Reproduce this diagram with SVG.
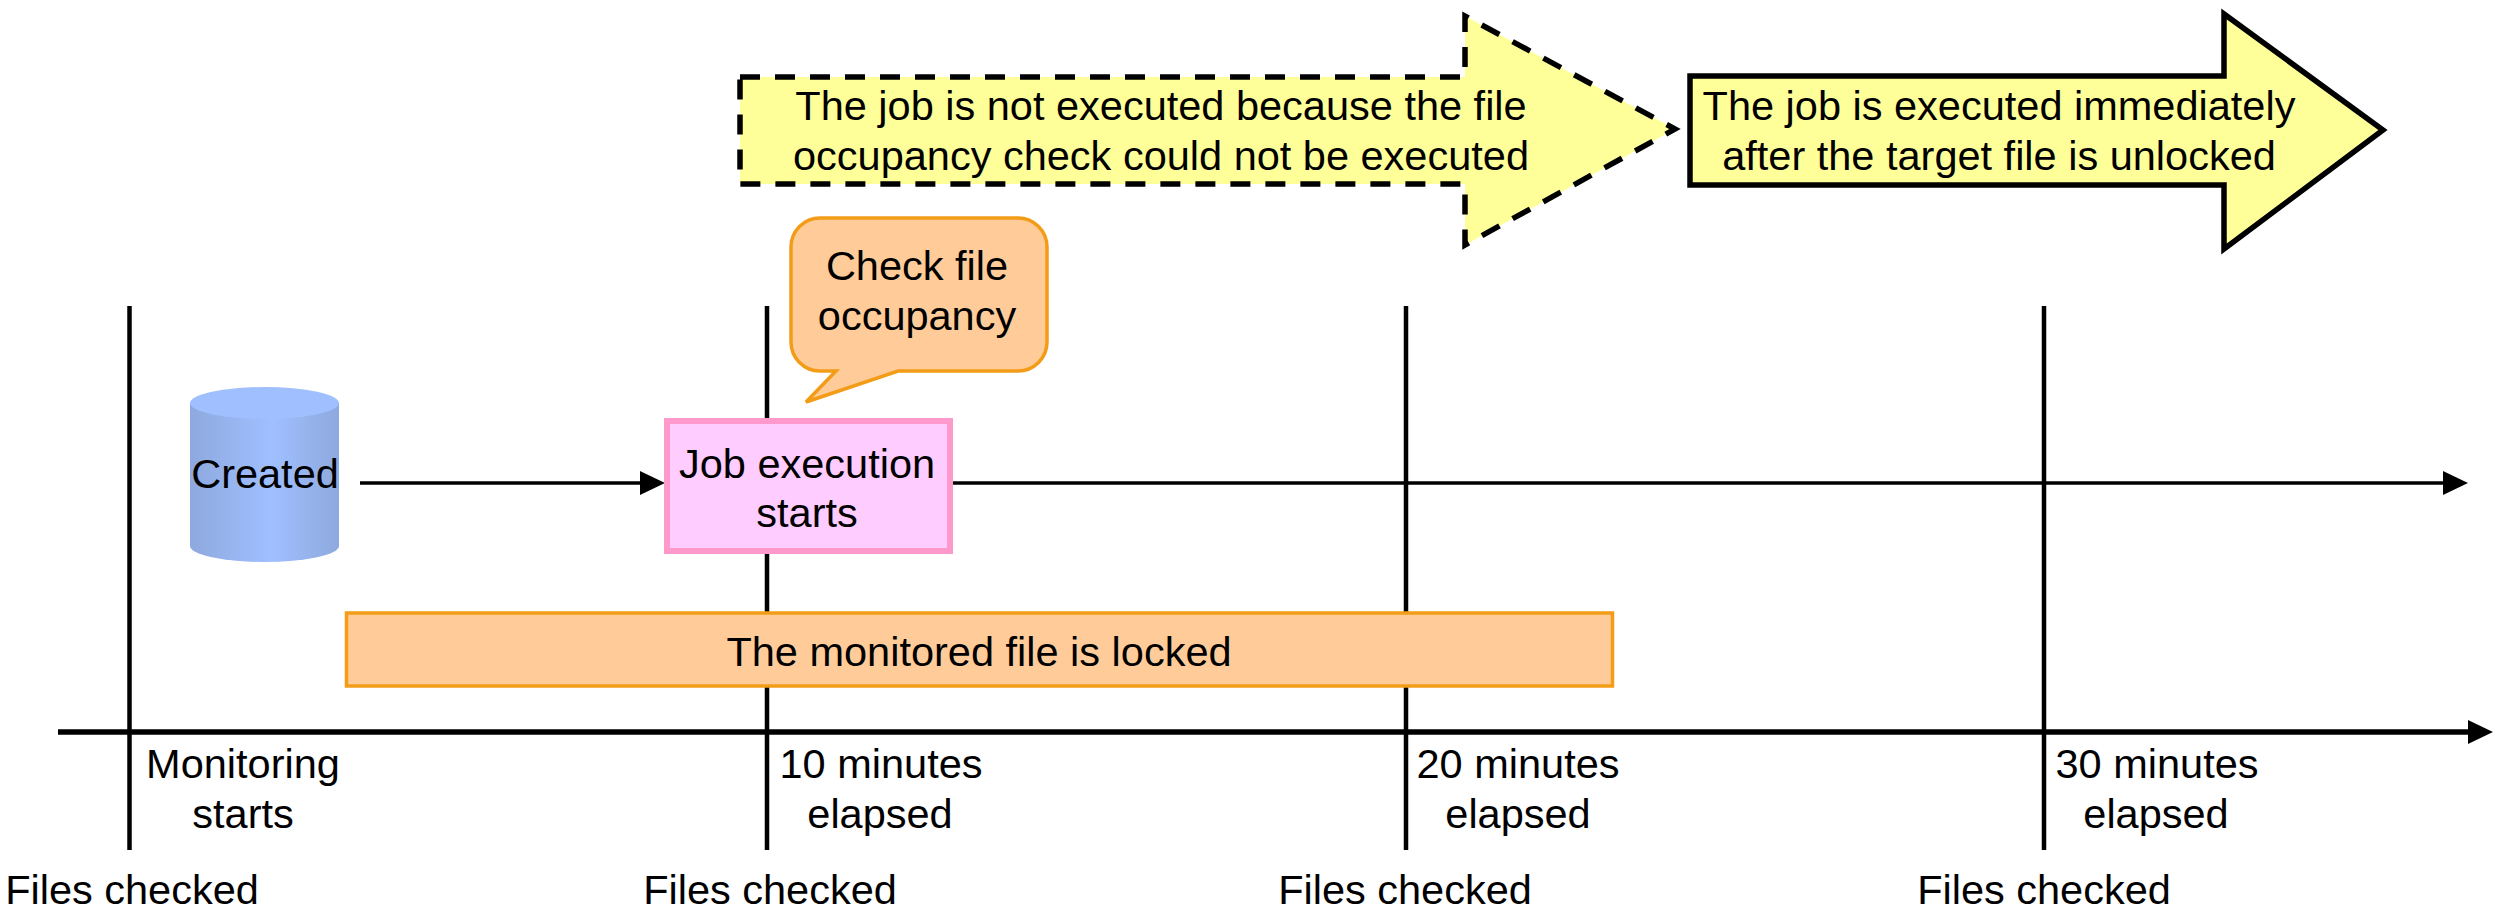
<svg xmlns="http://www.w3.org/2000/svg" width="2499" height="913" viewBox="0 0 2499 913">
<style>
text{font-family:"Liberation Sans",Arial,sans-serif;font-size:41.500px;fill:#000;text-anchor:middle}
.v{stroke:#000;stroke-width:4.500;fill:none}
.a{stroke:#000;fill:none}
.y{fill:#FFFF99;stroke:#000;stroke-width:5.500;stroke-linejoin:miter}
.o{fill:#FFCC99;stroke:#F39C18;stroke-width:3.500}
</style>
<defs>
<linearGradient id="cyl" x1="0" x2="1" y1="0" y2="0">
<stop offset="0" stop-color="#8EA9DE"/><stop offset="0.55" stop-color="#A0BFFF"/><stop offset="1" stop-color="#8EA9DE"/>
</linearGradient>
<marker id="tip" markerUnits="userSpaceOnUse" markerWidth="25" markerHeight="24" refX="1" refY="12" orient="auto">
<path d="M0 0L25 12L0 24Z" fill="#000"/>
</marker>
</defs>
<rect width="2499" height="913" fill="#fff"/>
<g id="connectors">
<line class="v" x1="129.500" y1="306" x2="129.500" y2="850"/>
<line class="v" x1="767" y1="306" x2="767" y2="850"/>
<line class="v" x1="1406" y1="306" x2="1406" y2="850"/>
<line class="v" x1="2044" y1="306" x2="2044" y2="850"/>
<line class="a" stroke-width="5.500" x1="58" y1="732" x2="2469" y2="732" marker-end="url(#tip)"/>
<line class="a" stroke-width="3.500" x1="360" y1="483" x2="641" y2="483" marker-end="url(#tip)"/>
<line class="a" stroke-width="3.500" x1="950" y1="483" x2="2444" y2="483" marker-end="url(#tip)"/>
</g>
<g id="arrow-not-executed">
<path class="y" stroke-dasharray="20 15" d="M740 77H1465V16L1675 129L1465 245V184H740Z"/>
<text x="1161" y="120">The job is not executed because the file</text>
<text x="1161" y="170">occupancy check could not be executed</text>
</g>
<g id="arrow-executed">
<path class="y" d="M1690 76H2224V14L2383 130L2224 249V185H1690Z"/>
<text x="1999" y="120">The job is executed immediately</text>
<text x="1999" y="170">after the target file is unlocked</text>
</g>
<g id="callout-check">
<path class="o" d="M820 218H1018A29 29 0 0 1 1047 247V342A29 29 0 0 1 1018 371H898L806 402L836 371H820A29 29 0 0 1 791 342V247A29 29 0 0 1 820 218Z"/>
<text x="917" y="280">Check file</text>
<text x="917" y="330">occupancy</text>
</g>
<g id="created">
<path fill="url(#cyl)" d="M190 403V546A74.500 16 0 0 0 339 546V403Z"/>
<ellipse cx="264.500" cy="403" rx="74.500" ry="16" fill="#A0BFFF"/>
<text x="265" y="488">Created</text>
</g>
<g id="job-start">
<rect x="667" y="421" width="283" height="130" fill="#FFCCFF" stroke="#FF99CC" stroke-width="6"/>
<text x="807" y="478">Job execution</text>
<text x="807" y="527">starts</text>
</g>
<g id="locked">
<rect class="o" x="346.500" y="613" width="1266" height="73"/>
<text x="979" y="666">The monitored file is locked</text>
</g>
<g id="label-monitoring">
<text x="243" y="778">Monitoring</text>
<text x="243" y="828">starts</text>
</g>
<g id="label-10">
<text x="881" y="778">10 minutes</text>
<text x="880" y="828">elapsed</text>
</g>
<g id="label-20">
<text x="1518" y="778">20 minutes</text>
<text x="1518" y="828">elapsed</text>
</g>
<g id="label-30">
<text x="2157" y="778">30 minutes</text>
<text x="2156" y="828">elapsed</text>
</g>
<g id="files-checked">
<text x="132" y="904">Files checked</text>
<text x="770" y="904">Files checked</text>
<text x="1405" y="904">Files checked</text>
<text x="2044" y="904">Files checked</text>
</g>
</svg>
